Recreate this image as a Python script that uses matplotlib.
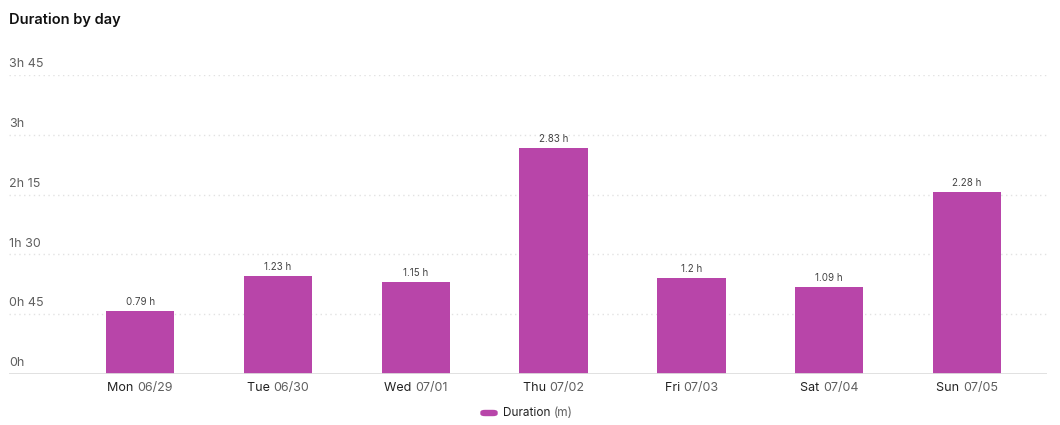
import matplotlib
matplotlib.use("Agg")
import matplotlib.pyplot as plt
from matplotlib.patches import FancyBboxPatch

plt.rcParams['font.family'] = ['Inter', 'DejaVu Sans']

days = ["Mon", "Tue", "Wed", "Thu", "Fri", "Sat", "Sun"]
dates = ["06/29", "06/30", "07/01", "07/02", "07/03", "07/04", "07/05"]
hours = [0.79, 1.23, 1.15, 2.83, 1.2, 1.09, 2.28]
ytick_min = [0, 45, 90, 135, 180, 225]
ytick_labels = ["0h", "0h 45", "1h 30", "2h 15", "3h", "3h 45"]

minutes = [h * 60 for h in hours]
bar_color = "#b845a9"
dark = "#222222"
grey = "#5f5f5f"

fig = plt.figure(figsize=(10.6, 4.25), dpi=100)
ax = fig.add_axes([9 / 1060, 1 - 374 / 425, (1047 - 9) / 1060, (374 - 75) / 425])

x = list(range(len(days)))
bars = ax.bar(x, minutes, width=0.495, color=bar_color, zorder=3)

ax.set_xlim(-0.951, 6.58)
ax.set_ylim(0, 225)

# dotted gridlines, solid baseline
for v in ytick_min[1:]:
    ax.axhline(v, color="#e2e2e2", lw=1, ls=(0, (1, 2.5)), zorder=1)
ax.axhline(0, color="#dedede", lw=2, zorder=4)

for v, lab in zip(ytick_min, ytick_labels):
    ax.annotate(lab, xy=(0, v), xycoords=("axes fraction", "data"),
                xytext=(0, 3.5), textcoords="offset points",
                ha="left", va="bottom", fontsize=9, color=grey)

for xi, m, h in zip(x, minutes, hours):
    ax.annotate(f"{h:g} h", xy=(xi, m), xytext=(0, 3), textcoords="offset points",
                ha="center", va="bottom", fontsize=7, color="#444444")

for s in ax.spines.values():
    s.set_visible(False)
ax.set_xticks([])
ax.set_yticks([])

# two-tone tick labels
fig.canvas.draw()
r = fig.canvas.get_renderer()
for xi, d, dt in zip(x, days, dates):
    t1 = ax.annotate(d + " ", xy=(xi, 0), xytext=(0, -6), textcoords="offset points",
                     ha="left", va="top", fontsize=9, color=dark)
    t2 = ax.annotate(dt, xy=(xi, 0), xytext=(0, -6), textcoords="offset points",
                     ha="left", va="top", fontsize=9, color=grey)
    w1 = t1.get_window_extent(r).width
    w2 = t2.get_window_extent(r).width
    tot = w1 + w2
    px2pt = 72 / fig.dpi
    t1.set_position((-tot / 2 * px2pt, -6))
    t2.set_position((( -tot / 2 + w1) * px2pt, -6))

fig.text(9 / 1060, 1 - 20 / 425, "Duration by day", fontsize=10.5, fontweight="semibold",
         color="#111111", ha="left", va="center")

# legend
lx, ly = 481 / 1060, 1 - 413 / 425
fig.patches.append(FancyBboxPatch((lx, ly - 2.5 / 425), 16 / 1060, 5 / 425,
                                  boxstyle="round,pad=0,rounding_size=0.004",
                                  transform=fig.transFigure, color=bar_color))
lt1 = fig.text(503 / 1060, ly, "Duration ", fontsize=8.5, color=dark, ha="left", va="center")
fig.canvas.draw()
wl = lt1.get_window_extent(r).width
fig.text((503 + wl) / 1060, ly, "(m)", fontsize=8.5, color=grey, ha="left", va="center")

fig.savefig("out.png", dpi=100)
